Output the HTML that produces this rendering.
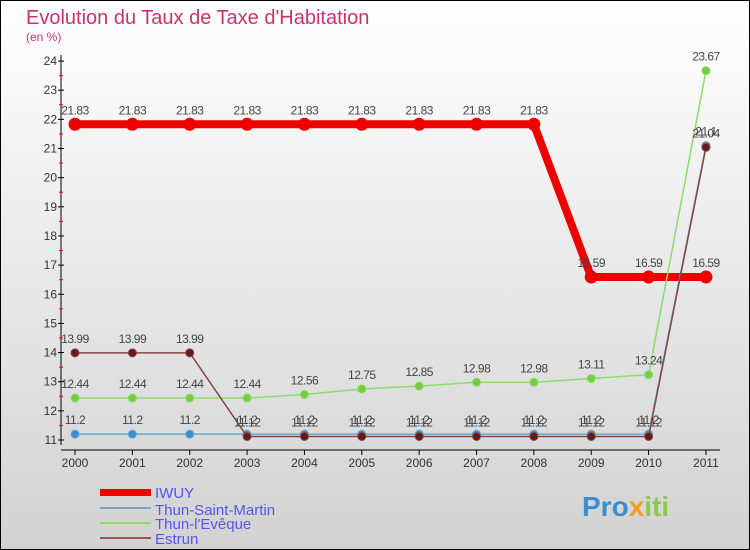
<!DOCTYPE html>
<html><head><meta charset="utf-8"><style>
body{margin:0}
#c{width:750px;height:550px;position:relative;overflow:hidden;font-family:"Liberation Sans",sans-serif}
</style></head><body>
<div id="c">
<svg id="s" width="750" height="550" xmlns="http://www.w3.org/2000/svg">
<defs><linearGradient id="bg" x1="0" y1="0" x2="0" y2="1"><stop offset="0" stop-color="#ffffff"/><stop offset="1" stop-color="#d2d2d2"/></linearGradient></defs>
<rect x="0.5" y="0.5" width="749" height="549" fill="url(#bg)" stroke="#000"/>
<text x="26" y="24" font-size="20" fill="#c8336a">Evolution du Taux de Taxe d'Habitation</text>
<text x="26" y="41" font-size="12" fill="#c8336a">(en %)</text>
<g id="axes"></g><g id="series"></g>
<g>
<rect x="100" y="489" width="51" height="7" fill="#ee0000"/>
<text x="155" y="498" font-size="15" fill="#5555ee">IWUY</text>
<rect x="100" y="507" width="51" height="2" fill="#6aa8d0"/>
<text x="155" y="515" font-size="15" fill="#5555ee">Thun-Saint-Martin</text>
<rect x="100" y="522" width="51" height="2" fill="#88dd66"/>
<text x="155" y="529" font-size="15" fill="#5555ee">Thun-l'Evêque</text>
<rect x="100" y="537" width="51" height="2" fill="#995555"/>
<text x="155" y="544" font-size="15" fill="#5555ee">Estrun</text>
</g>
<text x="582" y="516" font-size="28" font-weight="bold" fill="#3a8fd0">Pro<tspan fill="#f0a020">x</tspan><tspan fill="#88cc44">iti</tspan></text>
</svg>
</div>
<script>
const years=[2000,2001,2002,2003,2004,2005,2006,2007,2008,2009,2010,2011];
const yTicks=[11,12,13,14,15,16,17,18,19,20,21,22,23,24];
const iwuy=[21.83,21.83,21.83,21.83,21.83,21.83,21.83,21.83,21.83,16.59,16.59,16.59];
const tsm=[11.2,11.2,11.2,11.2,11.2,11.2,11.2,11.2,11.2,11.2,11.2,21.1];
const tle=[12.44,12.44,12.44,12.44,12.56,12.75,12.85,12.98,12.98,13.11,13.24,23.67];
const estrun=[13.99,13.99,13.99,11.12,11.12,11.12,11.12,11.12,11.12,11.12,11.12,21.04];
const NS="http://www.w3.org/2000/svg";
const X=i=>75+i*57.36, Y=v=>440-(v-11)*29.15;
function mk(t,a,p){const e=document.createElementNS(NS,t);for(const k in a)e.setAttribute(k,a[k]);p.appendChild(e);return e;}
const ax=document.getElementById('axes');
let e=mk('line',{x1:61,y1:55,x2:61,y2:445,stroke:'#000'},ax);


e=mk('line',{x1:61,y1:450,x2:720,y2:450,stroke:'#000'},ax);


yTicks.forEach(v=>{mk('line',{x1:58,x2:64,y1:Y(v),y2:Y(v),stroke:'#000'},ax);
 if(v<24)mk('line',{x1:59,x2:63,y1:Y(v+0.5),y2:Y(v+0.5),stroke:'#e00'},ax);
 const t=mk('text',{x:57,y:Y(v)+4,'font-size':12,'text-anchor':'end',fill:'#333'},ax);t.textContent=v;
 
 });
years.forEach((y,i)=>{mk('line',{x1:X(i),x2:X(i),y1:450,y2:455,stroke:'#000'},ax);
 const t=mk('text',{x:X(i),y:467,'font-size':12,'text-anchor':'middle',fill:'#333'},ax);t.textContent=y;
 
 });
const sg=document.getElementById('series');
function series(d,color,w,r,fill,name){
 const g=mk('g',{},sg);
 
 
 mk('polyline',{points:d.map((v,i)=>X(i)+','+Y(v)).join(' '),fill:'none',stroke:color,'stroke-width':w,'stroke-linejoin':'round'},g);
 d.forEach((v,i)=>{const c=mk('circle',{cx:X(i),cy:Y(v),r:r,fill:fill,stroke:color,'stroke-width':1},g);
  
  
  const t=mk('text',{x:X(i),y:Y(v)-10,'font-size':12,'text-anchor':'middle',fill:'#444','letter-spacing':'-0.5'},g);t.textContent=v;
  
  });
}
series(iwuy,'#ee0000',8,6,'#ee0000','iwuy-series');
series(tsm,'#6aa8d0',1.5,4,'#3a8fd0','thun-saint-martin-series');
series(tle,'#88dd66',1.5,4,'#77cc44','thun-leveque-series');
series(estrun,'#884444',1.5,4,'#661a1a','estrun-series');
</script>
</body></html>
